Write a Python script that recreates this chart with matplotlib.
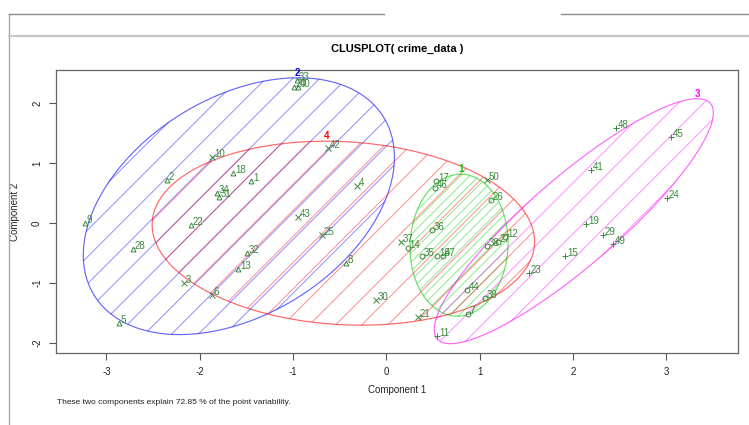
import numpy as np
import matplotlib
matplotlib.use("Agg")
import matplotlib.pyplot as plt
from matplotlib.lines import Line2D
from matplotlib.patches import Polygon

plt.rcParams['font.family'] = ['Liberation Sans', 'DejaVu Sans']
plt.rcParams['axes.unicode_minus'] = False

# observation ids with their scores on the first two principal components
ids = list(range(1, 51))
comp1 = [-1.452, -2.353, -2.170, -0.316, -2.867, -1.870, 0.874, -0.434, -3.231, -1.870,
         0.541, 1.270, -1.592, 0.230, 1.913, 0.541, 0.531, -1.645, 2.138, -0.991,
         0.338, -2.095, 1.527, 3.006, -0.691, 1.120, 1.195, -2.717, 2.320, -0.113,
         -1.795, -1.495, -0.959, -1.817, 0.380, 0.488, 0.155, 1.077, 1.056, -0.949,
         2.192, -0.627, -0.949, 0.863, 3.049, 0.520, 0.606, 2.460, 2.428, 1.077]
comp2 = [0.700, 0.717, -1.000, 0.617, -1.667, -1.200, -1.517, -0.667, 0.000, 1.100,
         -1.883, -0.233, -0.767, -0.417, -0.550, -0.550, 0.700, 0.833, -0.017, 2.267,
         -1.567, -0.033, -0.833, 0.417, -0.200, 0.383, -0.317, -0.433, -0.200, -1.283,
         0.433, -0.500, 2.383, 0.500, -0.550, -0.117, -0.317, -0.383, -1.250, 2.267,
         0.883, 1.250, 0.100, -1.117, 1.433, 0.583, -0.550, 1.583, -0.350, 0.717]
cluster = [2, 2, 4, 4, 2, 4, 1, 2, 2, 4,
           3, 1, 2, 1, 3, 1, 1, 2, 3, 2,
           4, 2, 3, 3, 4, 1, 1, 2, 3, 4,
           2, 2, 2, 2, 1, 1, 4, 1, 1, 2,
           3, 4, 4, 1, 3, 1, 1, 3, 3, 4]

# spanning ellipse of each cluster: centre and shape matrix
clus_ids = [1, 2, 3, 4]
ell_center = [(0.78, -0.37), (-1.58, 0.28), (2.01, 0.03), (-0.46, -0.17)]
ell_shape = [[[0.276, 0.02], [0.02, 1.40]],
             [[2.78, 1.36], [1.36, 4.58]],
             [[2.238, 2.70], [2.70, 4.17]],
             [[4.20, -0.29], [-0.29, 2.35]]]
clus_color = ['#00cd00', '#0000ff', '#ff00ff', '#ff0000']
shade_gap_px = [6.5, 19.0, 18.0, 18.5]   # spacing of the shading lines
clus_marker = {1: 'o', 2: '^', 3: '+', 4: 'x'}

explained = 72.85
point_col = '#3b873b'

fig = plt.figure(figsize=(7.49, 4.25), dpi=100)
W, H = 749, 425
ax = fig.add_axes([56 / W, 1 - 353 / H, (738 - 56) / W, (353 - 70) / H])
ax.set_xlim(-3.54, 3.77)
ax.set_ylim(-2.167, 2.55)

ax.set_xticks([-3, -2, -1, 0, 1, 2, 3])
ax.set_yticks([-2, -1, 0, 1, 2])
ax.set_yticklabels(['-2', '-1', '0', '1', '2'], rotation=90, va='center')
ax.tick_params(length=5, width=0.8, color='#555555', labelsize=7,
               labelcolor='#222222')
ax.tick_params(axis='x', pad=5)
ax.tick_params(axis='y', pad=5)
for s in ax.spines.values():
    s.set_color('#666666')
    s.set_linewidth(0.9)

ax.set_xlabel('Component 1', fontsize=7, labelpad=6, color='#222222')
ax.set_ylabel('Component 2', fontsize=7, labelpad=9, color='#222222')
ax.set_title('CLUSPLOT( crime_data )', fontsize=8, fontweight='bold', pad=13)

t = np.linspace(0, 2 * np.pi, 361)
unit = np.vstack([np.cos(t), np.sin(t)])


def shade(patch, color, gap, angle_deg=45.0):
    """Draw parallel shading lines clipped to the patch."""
    verts = ax.transData.transform(patch.get_xy())
    th = np.deg2rad(angle_deg)
    d = np.array([np.cos(th), np.sin(th)])
    n = np.array([-np.sin(th), np.cos(th)])
    pn = verts @ n
    pd = verts @ d
    inv = ax.transData.inverted()
    for k in np.arange(np.floor(pn.min() / gap) * gap, pn.max() + gap, gap):
        seg = np.array([k * n + (pd.min() - 5) * d, k * n + (pd.max() + 5) * d])
        seg = inv.transform(seg)
        ln, = ax.plot(seg[:, 0], seg[:, 1], color=color, lw=0.7, alpha=0.45)
        ln.set_clip_path(patch)


for cid, c, S, col, gap in zip(clus_ids, ell_center, ell_shape, clus_color, shade_gap_px):
    L = np.linalg.cholesky(np.array(S))
    pts = (L @ unit).T + np.array(c)
    poly = Polygon(pts, closed=True, fill=False, edgecolor=col, lw=0.85, alpha=0.6)
    ax.add_patch(poly)
    shade(poly, col, gap)
    top = pts[np.argmax(pts[:, 1])]
    ax.annotate(str(cid), top, xytext=(0, 1.5), textcoords='offset points',
                ha='center', va='baseline', fontsize=7, color=col, fontweight='bold')

comp1 = np.array(comp1)
comp2 = np.array(comp2)
cluster = np.array(cluster)
for k in clus_ids:
    m = cluster == k
    mk = clus_marker[k]
    if mk in ('o', '^'):
        ax.plot(comp1[m], comp2[m], ls='none', marker=mk, ms=3.5, mfc='none',
                mec=point_col, mew=0.7)
    else:
        ax.plot(comp1[m], comp2[m], ls='none', marker=mk, ms=4,
                mec=point_col, mew=0.7)

for i, x, y in zip(ids, comp1, comp2):
    ax.annotate(str(i), (x, y), xytext=(1.5, 0.3), textcoords='offset points',
                ha='left', va='baseline', fontsize=7, color=point_col)

fig.text(57 / W, 1 - 402 / H,
         f'These two components explain {explained} % of the point variability.',
         fontsize=6, va='center', ha='left', color='#222222')

# window frame around the graphics device
fig.add_artist(Line2D([9 / W, 9 / W], [0, 1 - 14 / H], transform=fig.transFigure,
                      color='#a8a8a8', lw=1))
fig.add_artist(Line2D([9 / W, 384 / W], [1 - 14 / H] * 2, transform=fig.transFigure,
                      color='#8c8c8c', lw=1))
fig.add_artist(Line2D([561 / W, 1], [1 - 14 / H] * 2, transform=fig.transFigure,
                      color='#8c8c8c', lw=1))
fig.add_artist(Line2D([9 / W, 1], [1 - 36 / H] * 2, transform=fig.transFigure,
                      color='#c8c8c8', lw=1.6))

fig.savefig('out.png', dpi=100)
